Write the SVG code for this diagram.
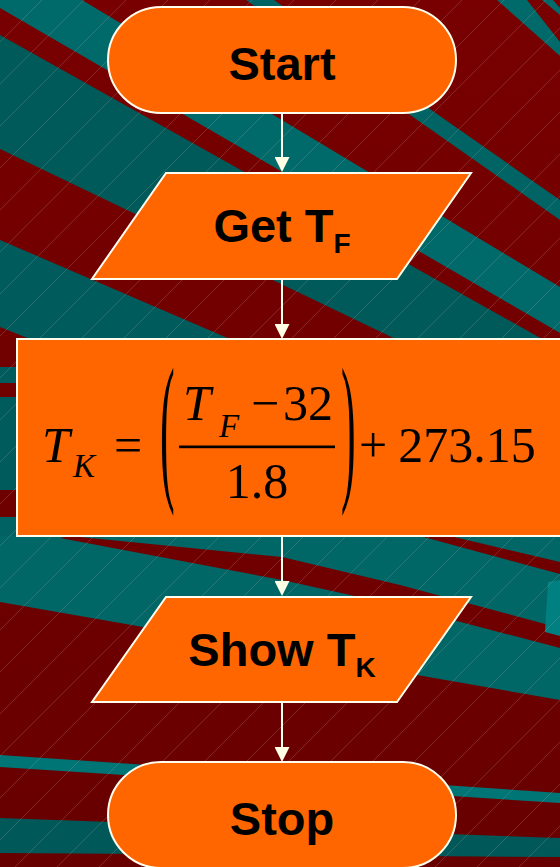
<svg xmlns="http://www.w3.org/2000/svg" width="560" height="867" viewBox="0 0 560 867">
<defs>
<linearGradient id="redbg" x1="0" y1="0" x2="0" y2="1">
<stop offset="0" stop-color="#780000"/>
<stop offset="1" stop-color="#680000"/>
</linearGradient>
<pattern id="hatch" patternUnits="userSpaceOnUse" width="42" height="42">
<line x1="-2" y1="44" x2="44" y2="-2" stroke="#c0a8a8" stroke-opacity="0.3" stroke-width="0.8"/>
</pattern>
<marker id="arr" markerUnits="userSpaceOnUse" viewBox="0 0 15 15" markerWidth="15" markerHeight="15" refX="10" refY="7.5" orient="auto">
<path d="M0,0 L15,7.5 L0,15 z" fill="#FFFFE6"/>
</marker>
</defs>
<style>
.node{fill:#FF6600;stroke:#FFFFF0;stroke-width:2}
.lbl{font-family:"Liberation Sans",Arial,sans-serif;font-weight:bold;font-size:47px;fill:#000;text-anchor:middle}
.sub{font-size:28px}
.math{font-family:"Liberation Serif","Times New Roman",serif;font-size:50px;fill:#000}
.mi{font-style:italic}
.msub{font-size:33px}
.paren{font-size:44px}
.conn{stroke:#FFFFF0;stroke-width:2;fill:none;marker-end:url(#arr)}
</style>

<g id="background">
<rect x="0" y="0" width="560" height="867" fill="url(#redbg)"/>
<polygon points="0,0 82,0 560,287 560,333 0,8" fill="#006A6A"/>
<polygon points="0,35 560,349 560,418 0,149" fill="#005A5A"/>
<polygon points="0,240 560,481 560,551 0,327" fill="#005C5C"/>
<polygon points="246,0 274,0 560,200 560,220" fill="#006464"/>
<polygon points="497,0 527,0 560,42 560,56" fill="#006A6A"/>
<polygon points="542,0 553,0 560,8 560,15" fill="#006A6A"/>
<rect x="0" y="367" width="20" height="16" fill="#005C5C"/>
<rect x="0" y="397" width="20" height="93" fill="#005C5C"/>
<rect x="0" y="517" width="20" height="22" fill="#006262"/>
<polygon points="0,536 560,536 560,700 0,602" fill="#006666"/>
<polygon points="70,536 282,557 400,585 560,628 560,648 400,606 282,580 60,538" fill="#700000"/>
<polygon points="420,536 450,536 560,562 560,574" fill="#700000"/>
<polygon points="548,582 560,580 560,636 545,632" fill="#008080"/>
<polygon points="0,755 560,793 560,803 0,767" fill="#007575"/>
<polygon points="0,818 560,838 560,857 0,853" fill="#005858"/>
<rect x="0" y="0" width="560" height="867" fill="url(#hatch)"/>
</g>

<g id="connectors">
<line class="conn" x1="282" y1="113" x2="282" y2="167"/>
<line class="conn" x1="282" y1="279" x2="282" y2="334"/>
<line class="conn" x1="282" y1="536" x2="282" y2="591"/>
<line class="conn" x1="282" y1="702" x2="282" y2="757"/>
</g>

<g id="start">
<rect class="node" x="108" y="7" width="348" height="106" rx="53" ry="53"/>
<text class="lbl" x="282" y="80">Start</text>
</g>

<g id="get-tf">
<polygon class="node" points="166,173 471,173 397,279 92,279"/>
<text class="lbl" x="282" y="242">Get T<tspan class="sub" dy="11">F</tspan></text>
</g>

<g id="formula">
<rect class="node" x="17" y="339" width="560" height="197"/>
<text class="math mi" x="42" y="462">T</text>
<text class="math mi msub" x="73" y="477">K</text>
<text class="math" x="114" y="462">=</text>
<text class="math paren" transform="translate(160,481) scale(1,3.7)">(</text>
<text class="math mi" x="183" y="420">T</text>
<text class="math mi msub" x="219" y="437">F</text>
<text class="math" x="251" y="420">&#8722;</text>
<text class="math" x="308" y="420" text-anchor="middle">32</text>
<rect x="179" y="445.5" width="156" height="2.7" fill="#000"/>
<text class="math" x="257" y="498" text-anchor="middle">1.8</text>
<text class="math paren" transform="translate(341,481) scale(1,3.7)">)</text>
<text class="math" x="359" y="462">+</text>
<text class="math" x="467" y="462" text-anchor="middle">273.15</text>
</g>

<g id="show-tk">
<polygon class="node" points="166,597 471,597 397,702 92,702"/>
<text class="lbl" x="282" y="666">Show T<tspan class="sub" dy="11">K</tspan></text>
</g>

<g id="stop">
<rect class="node" x="108" y="762" width="348" height="106" rx="53" ry="53"/>
<text class="lbl" x="282" y="835">Stop</text>
</g>
</svg>
